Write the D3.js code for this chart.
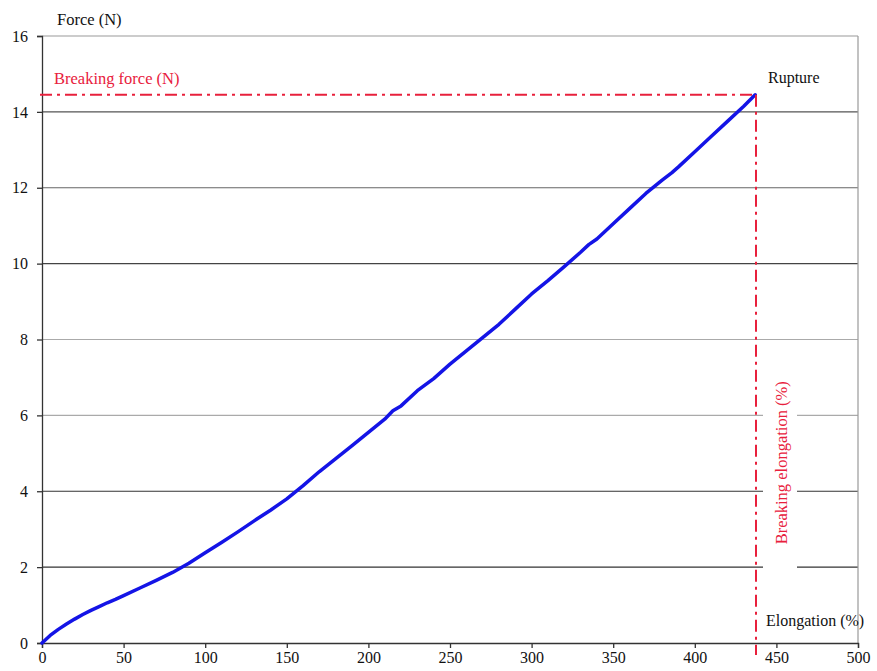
<!DOCTYPE html>
<html>
<head>
<meta charset="utf-8">
<script src="https://cdn.jsdelivr.net/npm/d3@7"></script>
<style>
  body { margin: 0; background: #fff; }
  svg text { font-family: "Liberation Serif", "DejaVu Serif", serif; }
</style>
</head>
<body>
<div id="chart"></div>
<script>
// Force vs elongation curve
const elongation = [0, 5, 10, 15, 20, 25, 30, 35, 40, 45, 50, 60, 70, 80, 90, 100, 110, 120, 130, 140, 150,
  160, 170, 180, 190, 200, 210, 215, 220, 230, 240, 250, 260, 270, 280, 290, 300, 310, 320, 330,
  335, 340, 350, 360, 370, 380, 386, 390, 400, 410, 420, 430, 437];
const force = [0, 0.2, 0.36, 0.5, 0.63, 0.75, 0.86, 0.96, 1.06, 1.15, 1.25, 1.45, 1.65, 1.86, 2.1, 2.38, 2.65, 2.93, 3.22, 3.5, 3.8,
  4.15, 4.52, 4.86, 5.2, 5.55, 5.9, 6.12, 6.25, 6.65, 6.97, 7.35, 7.7, 8.05, 8.4, 8.8, 9.2, 9.55, 9.92, 10.3,
  10.5, 10.65, 11.05, 11.45, 11.85, 12.2, 12.4, 12.55, 12.95, 13.35, 13.75, 14.15, 14.45];

const xTicks = [0, 50, 100, 150, 200, 250, 300, 350, 400, 450, 500];
const yTicks = [0, 2, 4, 6, 8, 10, 12, 14, 16];
const gridColors = {2: '#333', 4: '#333', 6: '#aaa', 8: '#aaa', 10: '#444', 12: '#666', 14: '#555'};

const breakForce = 14.45;
const breakElong = 437.5;

const W = 877, H = 671;
const margin = {top: 36, right: 19, bottom: 28, left: 42};
const width = W - margin.left - margin.right;
const height = H - margin.top - margin.bottom;

const svg = d3.select('#chart').append('svg')
  .attr('width', W)
  .attr('height', H);

const g = svg.append('g')
  .attr('transform', `translate(${margin.left},${margin.top})`);

const x = d3.scaleLinear().domain([0, 500]).range([0, width]);
const y = d3.scaleLinear().domain([0, 16]).range([height, 0]);

// Horizontal grid lines
g.append('g').selectAll('line')
  .data(yTicks.filter(t => t > 0 && t < 16))
  .enter().append('line')
  .attr('x1', 0).attr('x2', width)
  .attr('y1', d => y(d)).attr('y2', d => y(d))
  .attr('stroke', d => gridColors[d])
  .attr('stroke-width', 1.2);

// Plot frame (top and right, grey)
g.append('line').attr('x1', 0).attr('x2', width).attr('y1', 0).attr('y2', 0)
  .attr('stroke', '#999').attr('stroke-width', 1.2);
g.append('line').attr('x1', width).attr('x2', width).attr('y1', 0).attr('y2', height)
  .attr('stroke', '#999').attr('stroke-width', 1.2);

// Axes
const xAxis = g.append('g')
  .attr('transform', `translate(0,${height})`)
  .call(d3.axisBottom(x).tickValues(xTicks).tickSize(5).tickPadding(4));
const yAxis = g.append('g')
  .call(d3.axisLeft(y).tickValues(yTicks).tickSize(5).tickPadding(9));

[xAxis, yAxis].forEach(a => {
  a.selectAll('path').attr('stroke', '#333').attr('stroke-width', 1.3);
  a.selectAll('line').attr('stroke', '#333').attr('stroke-width', 1.3);
  a.selectAll('text')
    .style('font-family', '"Liberation Serif", serif')
    .style('font-size', '16px')
    .attr('fill', '#111');
});

// White box behind the rotated label (it cuts the grid lines)
g.append('rect')
  .attr('x', x(breakElong) + 7).attr('y', y(6.6))
  .attr('width', 34).attr('height', y(1.8) - y(6.6))
  .attr('fill', '#fff');

// Curve
const pts = elongation.map((e, i) => ({e: e, f: force[i]}));
const line = d3.line().x(d => x(d.e)).y(d => y(d.f));
g.append('path')
  .datum(pts)
  .attr('fill', 'none')
  .attr('stroke', '#1414e6')
  .attr('stroke-width', 3.5)
  .attr('stroke-linejoin', 'round')
  .attr('stroke-linecap', 'round')
  .attr('d', line);

// Breaking markers
const red = '#e8203c';
g.append('line')
  .attr('x1', -2).attr('x2', x(breakElong))
  .attr('y1', y(breakForce)).attr('y2', y(breakForce))
  .attr('stroke', red).attr('stroke-width', 2)
  .attr('stroke-dasharray', '12,5,3,5');
g.append('line')
  .attr('x1', x(breakElong)).attr('x2', x(breakElong))
  .attr('y1', y(breakForce)).attr('y2', height + 12)
  .attr('stroke', red).attr('stroke-width', 2)
  .attr('stroke-dasharray', '12,5,3,5');

// Labels
svg.append('text')
  .attr('x', 57).attr('y', 25)
  .attr('font-size', '16.5px').attr('fill', '#111')
  .text('Force (N)');

g.append('text')
  .attr('x', 12).attr('y', y(breakForce) - 11)
  .attr('font-size', '16.5px').attr('fill', red)
  .text('Breaking force (N)');

g.append('text')
  .attr('x', x(breakElong) + 12).attr('y', y(breakForce) - 12)
  .attr('font-size', '16px').attr('fill', '#111')
  .text('Rupture');

g.append('text')
  .attr('x', x(breakElong) + 10).attr('y', y(0.5) + 2)
  .attr('font-size', '16px').attr('fill', '#111')
  .text('Elongation (%)');

g.append('text')
  .attr('transform', `translate(${x(breakElong) + 31},${y(2.6)}) rotate(-90)`)
  .attr('font-size', '16.5px').attr('fill', red)
  .text('Breaking elongation (%)');
</script>
</body>
</html>
